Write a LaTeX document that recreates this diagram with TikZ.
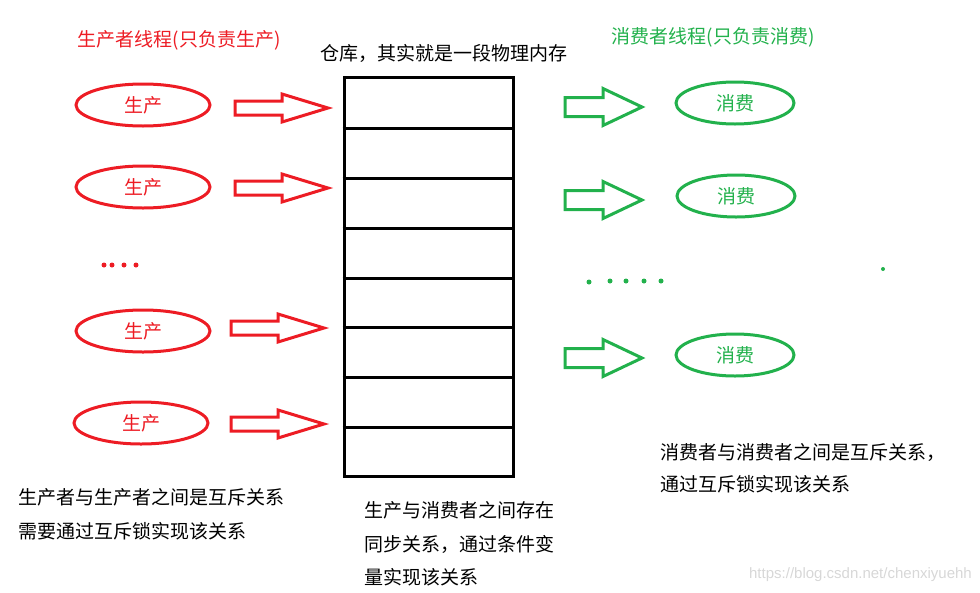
\documentclass[tikz,border=0pt]{standalone}
\usepackage{fontspec}
\newfontfamily\cjk{Noto Sans CJK SC}
\setmainfont{Liberation Sans}
\usetikzlibrary{shapes.geometric}
\definecolor{pred}{RGB}{237,28,36}
\definecolor{cgreen}{RGB}{34,177,76}
\definecolor{wmark}{RGB}{215,215,215}
\tikzset{
  txt/.style={font=\cjk\fontsize{19}{22}\selectfont, inner sep=0pt},
  prod/.style={ellipse, draw=pred, line width=3pt, minimum width=134pt, minimum height=42pt, text=pred, font=\cjk\fontsize{19}{22}\selectfont},
  cons/.style={ellipse, draw=cgreen, line width=3pt, minimum width=118pt, minimum height=42pt, text=cgreen, font=\cjk\fontsize{19}{22}\selectfont},
  note/.style={txt, align=left, anchor=north west},
  dotr/.style={circle, fill=pred, inner sep=0pt, minimum size=5pt},
  dotg/.style={circle, fill=cgreen, inner sep=0pt, minimum size=5pt},
  pics/redarrow/.style={code={
    \draw[pred, line width=3pt, line join=miter]
      (-93,-7) -- (-46,-7) -- (-46,-14) -- (0,0) -- (-46,14) -- (-46,7) -- (-93,7) -- cycle;}},
  pics/greenarrow/.style={code={
    \draw[cgreen, line width=3pt, line join=miter]
      (-77,-9.5) -- (-39,-9.5) -- (-39,-18.5) -- (0,0) -- (-39,18.5) -- (-39,9.5) -- (-77,9.5) -- cycle;}}
}
\begin{document}
\begin{tikzpicture}[x=1pt, y=-1pt]
\useasboundingbox (0,0) rectangle (980,592);

% titles
\node[txt, text=pred] (ptitle) at (179,40) {生产者线程(只负责生产)};
\node[txt] (wtitle) at (444,53) {仓库，其实就是一段物理内存};
\node[txt, text=cgreen] (ctitle) at (713,37) {消费者线程(只负责消费)};

% producers
\node[prod] (p1) at (143,105) {生产};
\node[prod] (p2) at (143,187) {生产};
\node[prod] (p3) at (143,331) {生产};
\node[prod] (p4) at (141,423) {生产};

% red arrows
\pic at (328,108) {redarrow};
\pic at (328,188) {redarrow};
\pic at (324,328) {redarrow};
\pic at (324,424) {redarrow};

% red dots
\node[dotr] (rd1) at (104,265) {};
\node[dotr] (rd2) at (112,265) {};
\node[dotr] (rd3) at (124,265) {};
\node[dotr] (rd4) at (136,265) {};

% warehouse
\node[draw, line width=3pt, minimum width=169pt, minimum height=399pt, inner sep=0pt] (store) at (428.5,277) {};
\foreach \y in {128,178,228,278,327,377,427}
  \draw[line width=3pt] (store.west |- 0,\y) -- (store.east |- 0,\y);

% green arrows
\pic at (642,107) {greenarrow};
\pic at (642,200) {greenarrow};
\pic at (642,358) {greenarrow};

% consumers
\node[cons] (c1) at (735,103) {消费};
\node[cons] (c2) at (736,196) {消费};
\node[cons] (c3) at (735,355) {消费};

% green dots
\node[dotg] (gd1) at (589,282) {};
\node[dotg] (gd2) at (610,281) {};
\node[dotg] (gd3) at (626,281) {};
\node[dotg] (gd4) at (644,281) {};
\node[dotg] (gd5) at (661,281) {};
\node[dotg, minimum size=4pt] (gd6) at (883,269) {};

% notes
\node[note] (n1) at (18,488) {生产者与生产者之间是互斥关系\\[12pt]需要通过互斥锁实现该关系};
\node[note] (n2) at (364,501) {生产与消费者之间存在\\[12pt]同步关系，通过条件变\\[11pt]量实现该关系};
\node[note] (n3) at (660,443) {消费者与消费者之间是互斥关系，\\[10pt]通过互斥锁实现该关系};

% watermark
\node[font=\fontsize{15}{18}\selectfont, text=wmark, anchor=east, inner sep=0pt] (wm) at (972,575) {https://blog.csdn.net/chenxiyuehh};
\end{tikzpicture}
\end{document}
